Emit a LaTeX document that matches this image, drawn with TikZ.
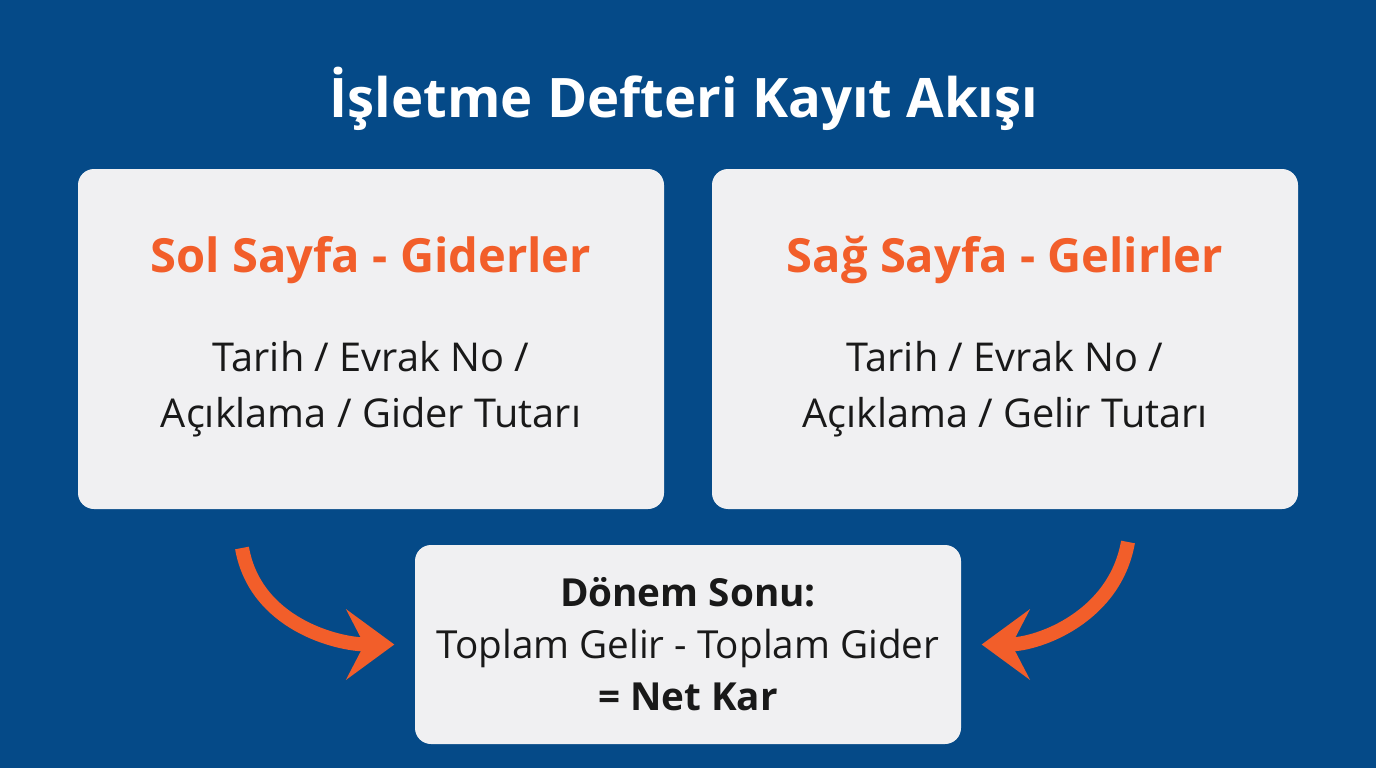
\documentclass[tikz,border=0pt]{standalone}
\usepackage{fontspec}
\setmainfont{Open Sans}
\usetikzlibrary{arrows.meta,positioning}
\definecolor{bgblue}{RGB}{5,74,136}
\definecolor{boxgray}{RGB}{240,240,242}
\definecolor{accent}{RGB}{242,94,42}
\tikzset{
	pagebox/.style={fill=boxgray, rounded corners=0.16cm, minimum width=5.86cm, minimum height=3.40cm},
	headtext/.style={text=accent, font=\fontsize{13.4}{16}\selectfont\bfseries},
	bodytext/.style={text=black!90, align=center, font=\fontsize{11.3}{15.9}\selectfont},
	flowarrow/.style={draw=accent, line width=0.14cm, -{Stealth[length=0.48cm, width=0.7cm, inset=0.18cm]}}
}

\begin{document}
\begin{tikzpicture}
		%%%%% START %%%%%
		
		\fill[bgblue] (0, 0) rectangle (13.76, -7.68);
		\useasboundingbox (0, 0) rectangle (13.76, -7.68);
		
		\node[text=white, font=\fontsize{15.5}{18}\selectfont\bfseries] (title) at (6.84, -0.99) {İşletme Defteri Kayıt Akışı};
		
		% the two ledger pages
		\node[pagebox] (sol) at (3.71, -3.39) {};
		\node[pagebox] (sag) at (10.05, -3.39) {};
		
		\node[headtext] (solhead) at ([yshift=-0.92cm]sol.north) {Sol Sayfa - Giderler};
		\node[bodytext] (solbody) at ([yshift=-2.21cm]sol.north) {Tarih / Evrak No /\\Açıklama / Gider Tutarı};
		
		\node[headtext] (saghead) at ([yshift=-0.92cm]sag.north) {Sağ Sayfa - Gelirler};
		\node[bodytext] (sagbody) at ([yshift=-2.21cm]sag.north) {Tarih / Evrak No /\\Açıklama / Gelir Tutarı};
		
		% period end
		\node[pagebox, minimum width=5.46cm, minimum height=1.99cm] (donem) at (6.88, -6.445) {};
		\node[bodytext, font=\fontsize{11}{14.8}\selectfont] (donemtext) at (donem.center) {\textbf{Dönem Sonu:}\\Toplam Gelir - Toplam Gider\\\textbf{= Net Kar}};
		
		% arrows
		\coordinate (solout) at (2.42, -5.48);
		\coordinate (sagout) at (11.28, -5.42);
		\draw[flowarrow, shorten >=0.2cm] (solout) to[out=-80, in=180] (donem.west);
		\draw[flowarrow, shorten >=0.2cm] (sagout) to[out=-100, in=0] (donem.east);
		
		%%%%% END %%%%%
	\end{tikzpicture}
\end{document}
